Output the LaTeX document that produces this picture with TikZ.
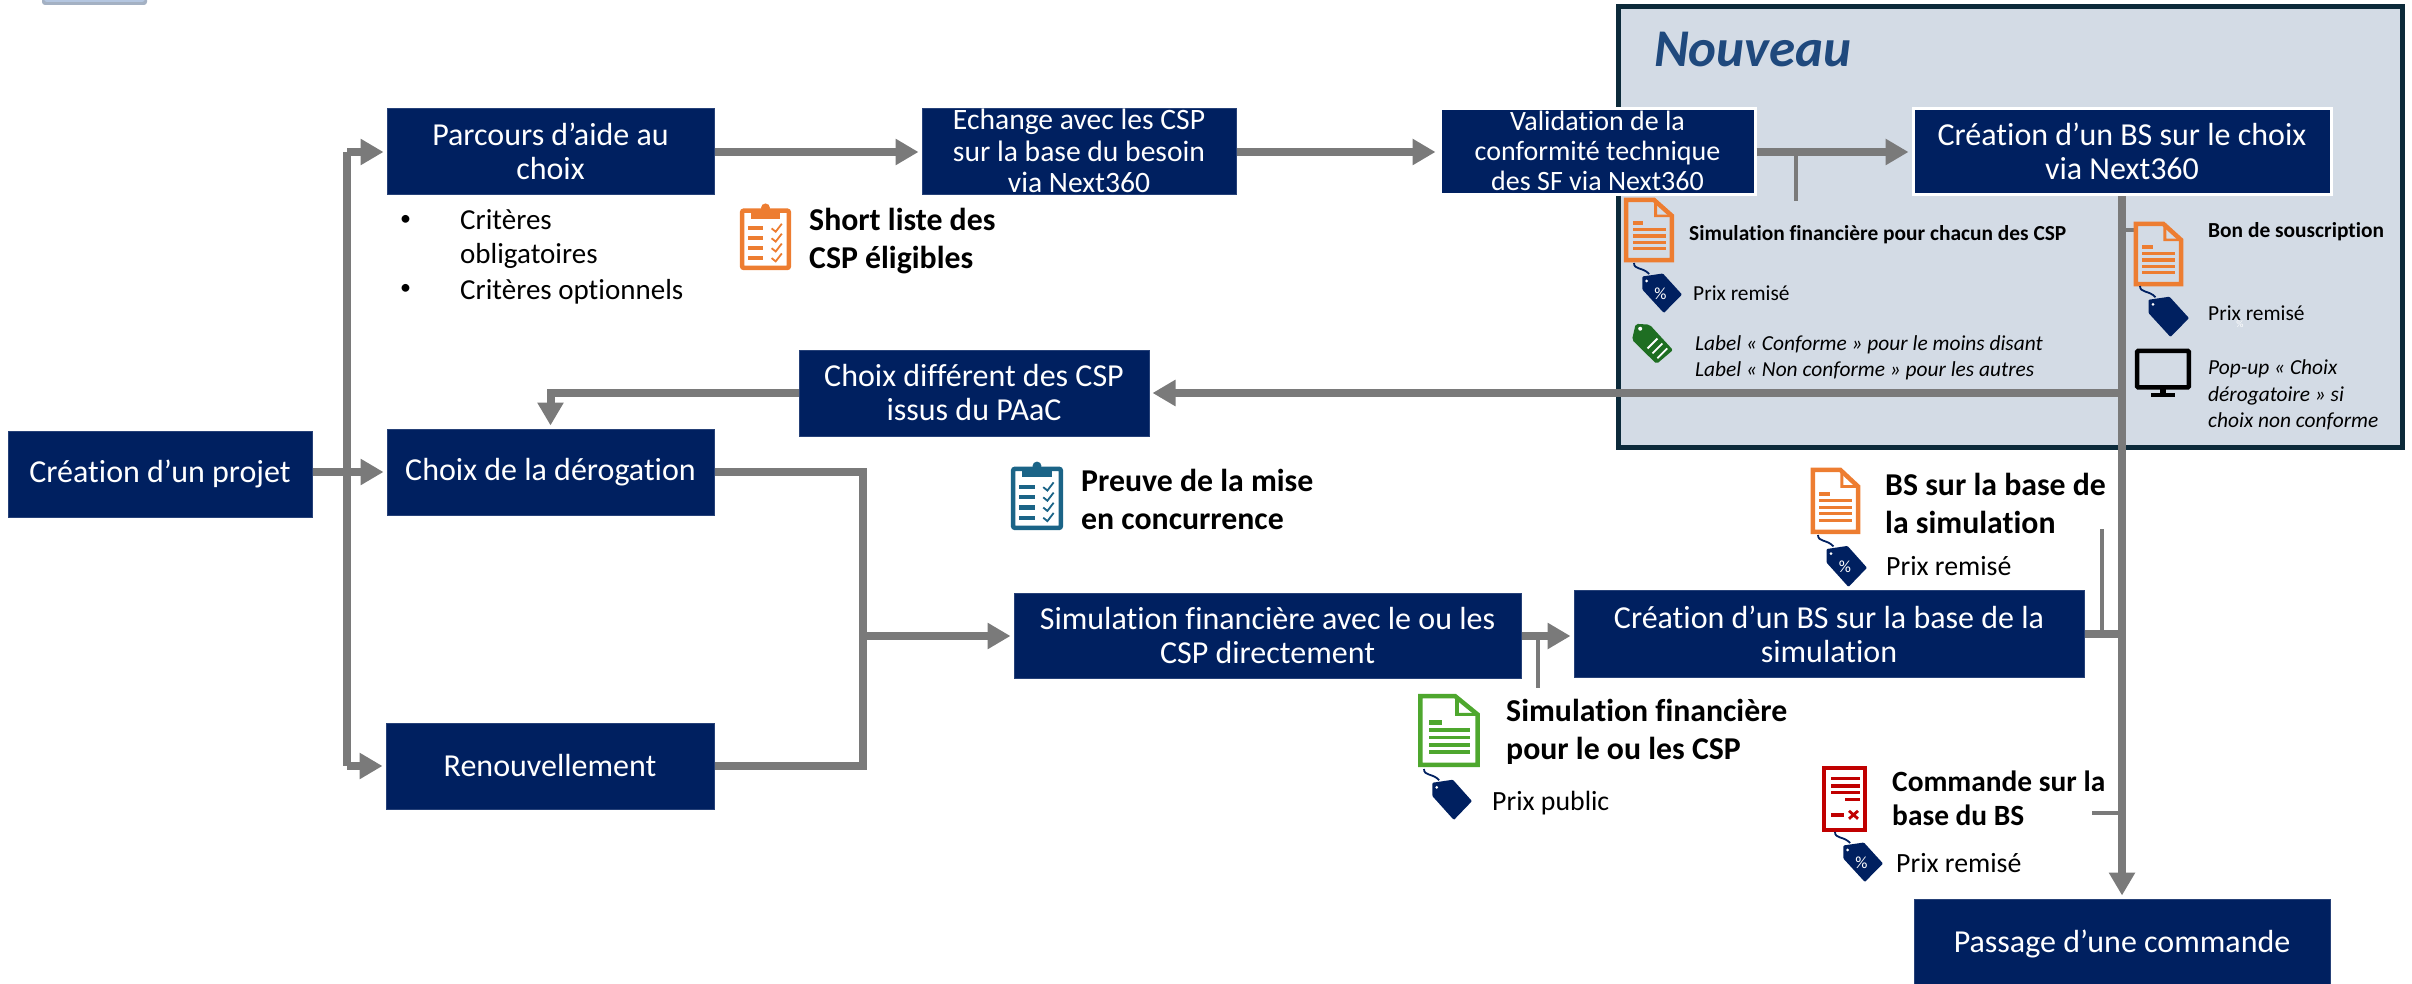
\documentclass[tikz,border=0pt]{standalone}
\usepackage{fontspec}
\setmainfont{Carlito}[Ligatures=NoCommon]
\usetikzlibrary{arrows.meta,calc}
\definecolor{navy}{HTML}{002060}
\definecolor{grisc}{HTML}{7A7A7A}
\definecolor{panelf}{HTML}{D3DBE5}
\definecolor{paneld}{HTML}{0C2A3A}
\definecolor{orangei}{HTML}{ED7D31}
\definecolor{greeni}{HTML}{4EA72E}
\definecolor{redi}{HTML}{C00000}
\definecolor{bluei}{HTML}{1B6487}
\definecolor{greent}{HTML}{1E6E22}
\definecolor{nouv}{HTML}{1F497D}
\definecolor{frag}{HTML}{B4C6E0}
\tikzset{
 boxn/.style={fill=navy,draw=navy!85!white,line width=1pt,text=white,inner sep=0pt,align=center,font=\fontsize{32}{34}\selectfont},
 boxt/.style={fill=navy,draw=navy!85!white,line width=1pt,text=white,inner sep=0pt,align=center,font=\fontsize{#1}{30.5}\selectfont},
 wb/.style={draw=white,line width=3pt},
 conn/.style={draw=grisc,line width=8pt},
 arr/.style={conn,-{Triangle[length=23pt,width=25pt]},shorten >=3pt},
 tick/.style={draw=grisc,line width=4pt},
 lab/.style={anchor=west,inner sep=0pt,align=left,text=black,font=\fontsize{29}{34}\selectfont},
 labb/.style={anchor=west,inner sep=0pt,align=left,text=black,font=\fontsize{31.8}{38}\selectfont\bfseries},
 small/.style={anchor=west,inner sep=0pt,align=left,text=black,font=\fontsize{21.4}{26}\selectfont},
 mid/.style={anchor=west,inner sep=0pt,align=left,text=black,font=\fontsize{27.8}{30}\selectfont},
}
\newcommand{\up}[1]{\raisebox{2pt}{#1}}
\newcommand{\docicon}[5]{\begin{scope}[shift={(#1,#2)},x={#3*0.01pt},y={-#4*0.01pt}]
 \draw[#5,line width=4.5pt,miter limit=2] (4,3)--(60,3)--(96,28)--(96,97)--(4,97)--cycle;
 \fill[#5] (60,3)--(60,30)--(96,30)--(96,26)--(66,26)--(66,3)--cycle;
 \fill[#5] (17,36) rectangle (38,42);
 \foreach \yy in {47,57,67,77}{\fill[#5] (17,\yy) rectangle (84,\yy+5);}
\end{scope}}
\newcommand{\clipicon}[5]{\begin{scope}[shift={(#1,#2)},x={#3*0.01pt},y={-#4*0.01pt}]
 \draw[#5,line width=4.5pt,rounded corners=2pt] (4,10) rectangle (96,97);
 \fill[#5] (22,8) rectangle (78,22);
 \fill[#5] (50,6) circle[radius=4.5pt];
 \foreach \yy in {34,49,64,79}{\fill[#5] (16,\yy) rectangle (46,\yy+6);
  \draw[#5,line width=1.8pt] (62,\yy+3)--(70,\yy+8)--(82,\yy-4);}
\end{scope}}
\newcommand{\tagicon}[5]{\begin{scope}[shift={(#1,#2)},x={#3*0.01pt},y={-#4*0.01pt}]
 \draw[navy,line width=1.8pt] (2,0) .. controls (2,14) and (20,8) .. (33,22);
 \fill[navy,rounded corners=1pt] (19,27)--(61,21)--(100,63)--(63,100)--(19,53)--cycle;
 \fill[white] (28,36) circle[radius=1.5pt];
 \node[text=white,inner sep=0pt,font=\fontsize{17}{17}\selectfont] at (56,62) {#5};
\end{scope}}
\begin{document}
\begin{tikzpicture}[x=1pt,y=-1pt]
\useasboundingbox (0,0) rectangle (2412,984);
% top-left fragment
\fill[frag!70!gray,rounded corners=3pt] (42,-10) rectangle (147,5);
\fill[frag,rounded corners=3pt] (44,-10) rectangle (145,2);
% panel
\draw[draw=paneld,fill=panelf,line width=5pt] (1618,7) rectangle (2402,447);
\node[anchor=west,inner sep=0pt,text=nouv,font=\fontsize{53}{56}\selectfont\bfseries\itshape] (nv) at (1654,50) {Nouveau};
% boxes
\node[boxn,minimum width=304pt,minimum height=86pt] (projet) at (160,474) {\raisebox{-1pt}{Création d’un projet}};
\node[boxn,minimum width=327pt,minimum height=86pt] (parcours) at (550.5,152) {\up{Parcours d’aide au}\\\up{choix}};
\node[boxn,minimum width=327pt,minimum height=86pt] (derog) at (550.5,472) {Choix de la dérogation};
\node[boxn,minimum width=328pt,minimum height=86pt] (renouv) at (550,766) {Renouvellement};
\node[boxt=29.6,font=\fontsize{29.6}{31.5}\selectfont,minimum width=314pt,minimum height=86pt] (echange) at (1079,152) {\up{Echange avec les CSP}\\\up{sur la base du besoin}\\\up{via Next360}};
\node[boxt=28,font=\fontsize{28}{30}\selectfont,wb,minimum width=315pt,minimum height=86pt] (valid) at (1597.5,152) {\up{Validation de la}\\\up{conformité technique}\\\up{des SF via Next360}};
\node[boxn,minimum width=350pt,minimum height=86pt] (cdiff) at (974,393) {Choix différent des CSP\\issus du PAaC};
\node[boxn,wb,minimum width=418pt,minimum height=86pt] (bschoix) at (2122,152) {\up{Création d’un BS sur le choix}\\\up{via Next360}};
\node[boxn,minimum width=507pt,minimum height=85pt] (simu) at (1267.5,636) {Simulation financière avec le ou les\\CSP directement};
\node[boxn,minimum width=510pt,minimum height=87pt] (bssim) at (1829,634) {Création d’un BS sur la base de la\\simulation};
\node[boxn,minimum width=416pt,minimum height=90pt] (passage) at (2122,944) {Passage d’une commande};
% junctions
\coordinate (jtop) at (347,152);
\coordinate (jbot) at (347,766);
\coordinate (jm) at (347,472);
\coordinate (jd) at (863,472);
\coordinate (jr) at (863,766);
\coordinate (js) at (863,636);
\coordinate (tv0) at (1796,152); \coordinate (tv1) at (1796,201);
\coordinate (ts0) at (1538,636); \coordinate (ts1) at (1538,688);
\coordinate (tb0) at (2102,634); \coordinate (tb1) at (2102,529);
\coordinate (tc0) at (2122,813); \coordinate (tc1) at (2092,813);
\coordinate (td0) at (2122,230); \coordinate (td1) at (2134,230);
% connectors
\draw[conn] (jtop)--(jbot);
\draw[arr] (jtop)--(parcours.west);
\draw[arr] (jbot)--(renouv.west);
\draw[arr] (projet.east |- jm)--(derog.west);
\draw[arr] (parcours.east)--(echange.west);
\draw[arr] (echange.east)--(valid.west);
\draw[arr] (valid.east)--(bschoix.west);
\draw[tick] (tv0)--(tv1);
\draw[arr] (bschoix.south)--(passage.north);
\draw[arr] (bschoix.south |- cdiff.east)--(cdiff.east);
\draw[arr] (cdiff.west) -| (derog.north);
\draw[conn] (derog.east)--(jd)--(jr)--(renouv.east);
\draw[arr] (js)--(simu.west);
\draw[arr] (simu.east)--(bssim.west |- simu.east);
\draw[tick] (ts0)--(ts1);
\draw[conn] (bssim.east)--(bssim.east -| passage.north);
\draw[tick] (tb0)--(tb1);
\draw[tick] (tc0)--(tc1);
\draw[tick] (td0)--(td1);
% icons
\docicon{1624}{198}{50}{64}{orangei}
\docicon{2134}{222}{49}{64}{orangei}
\docicon{1811}{468}{49}{66}{orangei}
\docicon{1418}{694}{62}{73}{greeni}
\begin{scope}[shift={(1822,766)},x={45*0.01pt},y={-66*0.01pt}]
 \draw[redi,line width=4.5pt] (4,3) rectangle (96,97);
 \foreach \yy in {16,28,38}{\fill[redi] (20,\yy) rectangle (85,\yy+5);}
 \fill[redi] (50,48) rectangle (85,53);
 \fill[redi] (20,72) rectangle (48,77);
 \draw[redi,line width=2.8pt] (60,68)--(80,80) (80,68)--(60,80);
\end{scope}
\clipicon{740}{204}{51}{66}{orangei}
\clipicon{1011}{462}{52}{68}{bluei}
\tagicon{1633}{263}{49}{50}{\%}
\tagicon{2139}{286}{50}{51}{}
\tagicon{1817}{535}{50}{52}{\%}
\tagicon{1423}{769}{49}{51}{}
\tagicon{1834}{832}{49}{50}{\%}
\begin{scope}[shift={(1632,323)},x={41*0.01pt},y={-41*0.01pt}]
 \fill[greent,rounded corners=2pt] (9,2)--(43,4)--(100,66)--(60,100)--(0,41)--cycle;
 \fill[white] (20,14) circle[radius=2pt];
 \draw[white,line width=1.8pt] (38,62)--(62,38) (50,74)--(74,50) (62,86)--(86,62);
\end{scope}
\begin{scope}[shift={(2136,349)},x={54*0.01pt},y={-48*0.01pt}]
 \draw[black,line width=4.5pt,rounded corners=1pt] (2,4) rectangle (98,80);
 \fill[black] (45,80) rectangle (55,92);
 \fill[black] (28,91) rectangle (72,100);
\end{scope}
% texts
\node[lab,font=\fontsize{22}{22}\selectfont] (b1) at (400,220) {•};
\node[lab] (t1) at (460,239) {Critères\\obligatoires};
\node[lab,font=\fontsize{22}{22}\selectfont] (b2) at (400,289) {•};
\node[lab] (t2) at (460,291.5) {Critères optionnels};
\node[labb] (short) at (809,241) {Short liste des\\CSP éligibles};
\node[labb] (preuve) at (1081,499) {Preuve de la mise\\en concurrence};
\node[small,font=\fontsize{21.4}{26}\selectfont\bfseries] (sfc) at (1689,235) {Simulation financière pour chacun des CSP};
\node[small] (pr1) at (1693,293) {Prix remisé};
\node[small,font=\fontsize{21.4}{26}\selectfont\itshape] (lbl) at (1695,357.5) {Label « Conforme » pour le moins disant\\Label « Non conforme » pour les autres};
\node[small,font=\fontsize{21.4}{26}\selectfont\bfseries] (bon) at (2208,232) {Bon de souscription};
\node[small] (pr2) at (2208,313) {Prix remisé};
\node[text=white,inner sep=0pt,font=\fontsize{10}{10}\selectfont] (pc) at (2240,324) {\%};
\node[small,font=\fontsize{21.4}{26.5}\selectfont\itshape] (pop) at (2208,395) {Pop-up « Choix\\dérogatoire » si\\choix non conforme};
\node[labb] (bsb) at (1885,503) {BS sur la base de\\la simulation};
\node[mid] (pr3) at (1886,566) {Prix remisé};
\node[labb] (sfl) at (1506,732) {Simulation financière\\pour le ou les CSP};
\node[mid] (pp) at (1492,803) {Prix public};
\node[labb,font=\fontsize{29.4}{34}\selectfont\bfseries] (cmd) at (1892,798) {Commande sur la\\base du BS};
\node[mid] (pr4) at (1896,863) {Prix remisé};
\end{tikzpicture}
\end{document}
